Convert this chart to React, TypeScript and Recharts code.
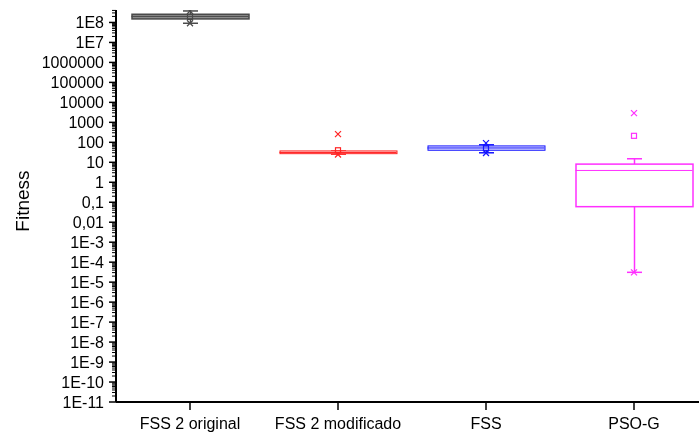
import React from 'react';
import { ComposedChart, Bar, Scatter, XAxis, YAxis } from 'recharts';

const CATEGORIES = ['FSS 2 original', 'FSS 2 modificado', 'FSS', 'PSO-G'];
const Q1 = [1.5e8, 27, 40, 0.06];
const Q3 = [2.57e8, 37, 66, 8.1];
const MEDIAN = [2.0e8, 31, 52, 3.9];
const WHISKER_LOW = [9.1e7, 25.5, 29.9, 3.1e-5];
const WHISKER_HIGH = [3.76e8, 37, 75, 15];
const MEAN = [1.9e8, 40, 50, 211];
const MARK_HIGH = [3.76e8, 257, 91, 2880];
const MARK_LOW = [9.1e7, 24.5, 29, 3.1e-5];

const Y_TICKS = [1e8, 1e7, 1e6, 1e5, 1e4, 1e3, 100, 10, 1, 0.1, 0.01, 1e-3, 1e-4, 1e-5, 1e-6, 1e-7, 1e-8, 1e-9, 1e-10, 1e-11];
const Y_TICK_LABELS = ['1E8', '1E7', '1000000', '100000', '10000', '1000', '100', '10', '1', '0,1', '0,01', '1E-3', '1E-4', '1E-5', '1E-6', '1E-7', '1E-8', '1E-9', '1E-10', '1E-11'];
const Y_DOMAIN: [number, number] = [1e-11, 4.2e8];

const MINOR_TICKS: number[] = [];
for (let k = -11; k <= 8; k++) {
  for (let m = 2; m <= 9; m++) {
    const v = m * Math.pow(10, k);
    if (v <= Y_DOMAIN[1]) MINOR_TICKS.push(v);
  }
}
const ALL_TICKS = [...Y_TICKS, ...MINOR_TICKS];

const STROKES = ['#4a4a4a', '#ff2424', '#1414ff', '#ff30ff'];
const FILLS = ['#8c8c8c', '#ffe0e0', '#e0e0ff', '#ffffff'];
const BOX_STROKE_W = [1.5, 1, 1, 1.5];
const FONT = '"Liberation Sans", Arial, sans-serif';

const data = CATEGORIES.map((name, i) => ({
  name,
  box: [Q1[i], Q3[i]],
  whisker: [WHISKER_LOW[i], WHISKER_HIGH[i]],
}));
const toPoints = (arr: number[]) => CATEGORIES.map((name, i) => ({ name, value: arr[i] }));
const medianData = toPoints(MEDIAN);
const meanData = toPoints(MEAN);
const highData = toPoints(MARK_HIGH);
const lowData = toPoints(MARK_LOW);

const idxOf = (p: any) => {
  const n = p?.payload?.name ?? p?.name;
  const i = CATEGORIES.indexOf(n);
  return i >= 0 ? i : (p?.index ?? 0);
};

const WhiskerShape = (p: any) => {
  const i = idxOf(p);
  const c = STROKES[i];
  const cx = p.x + p.width / 2;
  const top = Math.min(p.y, p.y + p.height);
  const bot = Math.max(p.y, p.y + p.height);
  return (
    <g stroke={c} strokeWidth={1.5}>
      <line x1={cx} x2={cx} y1={top} y2={bot} />
      <line x1={p.x} x2={p.x + p.width} y1={top} y2={top} />
      <line x1={p.x} x2={p.x + p.width} y1={bot} y2={bot} />
    </g>
  );
};

const BoxShape = (p: any) => {
  const i = idxOf(p);
  const top = Math.min(p.y, p.y + p.height);
  const h = Math.abs(p.height);
  return <rect x={p.x} y={top} width={p.width} height={h} fill={FILLS[i]} stroke={STROKES[i]} strokeWidth={BOX_STROKE_W[i]} />;
};

const MedianShape = (p: any) => {
  const i = idxOf(p);
  return <line x1={p.cx - 58.5} x2={p.cx + 58.5} y1={p.cy} y2={p.cy} stroke={STROKES[i]} strokeWidth={1} />;
};

const MeanShape = (p: any) => {
  const i = idxOf(p);
  return <rect x={p.cx - 2.5} y={p.cy - 2.5} width={5} height={5} fill="none" stroke={STROKES[i]} strokeWidth={1.2} />;
};

const CrossShape = (p: any) => {
  const i = idxOf(p);
  const s = 3;
  return (
    <g stroke={STROKES[i]} strokeWidth={1.2}>
      <line x1={p.cx - s} x2={p.cx + s} y1={p.cy - s} y2={p.cy + s} />
      <line x1={p.cx - s} x2={p.cx + s} y1={p.cy + s} y2={p.cy - s} />
    </g>
  );
};

const YTick = (props: any) => {
  const { x, y, payload } = props;
  const idx = Y_TICKS.indexOf(payload.value);
  if (idx < 0) {
    return <line x1={x - 4} x2={x} y1={y} y2={y} stroke="#000" strokeWidth={1} />;
  }
  return (
    <g>
      <line x1={x - 7} x2={x} y1={y} y2={y} stroke="#000" strokeWidth={1.5} />
      <text x={x - 12} y={y} dy="0.36em" textAnchor="end" fontSize={16} fontFamily={FONT} fill="#000">
        {Y_TICK_LABELS[idx]}
      </text>
    </g>
  );
};

const FitnessLabel = (props: any) => {
  const vb = props.viewBox || { x: 0, y: 0, width: 0, height: 0 };
  const x = vb.x + 14;
  const y = vb.y + vb.height / 2 - 5;
  return (
    <text x={x} y={y} transform={`rotate(-90, ${x}, ${y})`} textAnchor="middle" dominantBaseline="central" fontSize={19} fontFamily={FONT} fill="#000">
      Fitness
    </text>
  );
};

const X_PADDING = { left: 0, right: -9 };

export default function App() {
  return (
    <div style={{ position: 'fixed', left: 8, top: 8, width: 691, height: 426 }}>
      <ComposedChart width={691} height={426} data={data} margin={{ top: 2, right: 0, bottom: 0, left: 0 }}>
        <XAxis
          xAxisId="main"
          dataKey="name"
          type="category"
          allowDuplicatedCategory={false}
          padding={X_PADDING}
          height={32}
          axisLine={{ stroke: '#000', strokeWidth: 2 }}
          tickLine={{ stroke: '#000', strokeWidth: 1.5 }}
          tickSize={8}
          tickMargin={8}
          interval={0}
          tick={{ fill: '#000', fontSize: 16, fontFamily: FONT }}
        />
        <XAxis xAxisId="w" dataKey="name" type="category" allowDuplicatedCategory={false} padding={X_PADDING} hide />
        <YAxis
          yAxisId="y"
          scale="log"
          domain={Y_DOMAIN}
          allowDataOverflow
          ticks={ALL_TICKS}
          interval={0}
          width={108}
          tickSize={0}
          tickMargin={0}
          axisLine={{ stroke: '#000', strokeWidth: 2 }}
          tick={<YTick />}
          label={{ content: <FitnessLabel /> }}
        />
        <Bar xAxisId="w" yAxisId="y" dataKey="whisker" barSize={15} shape={<WhiskerShape />} isAnimationActive={false} />
        <Bar xAxisId="main" yAxisId="y" dataKey="box" barSize={117} shape={<BoxShape />} isAnimationActive={false} />
        <Scatter xAxisId="main" yAxisId="y" data={medianData} dataKey="value" shape={<MedianShape />} isAnimationActive={false} />
        <Scatter xAxisId="main" yAxisId="y" data={meanData} dataKey="value" shape={<MeanShape />} isAnimationActive={false} />
        <Scatter xAxisId="main" yAxisId="y" data={highData} dataKey="value" shape={<CrossShape />} isAnimationActive={false} />
        <Scatter xAxisId="main" yAxisId="y" data={lowData} dataKey="value" shape={<CrossShape />} isAnimationActive={false} />
      </ComposedChart>
    </div>
  );
}
